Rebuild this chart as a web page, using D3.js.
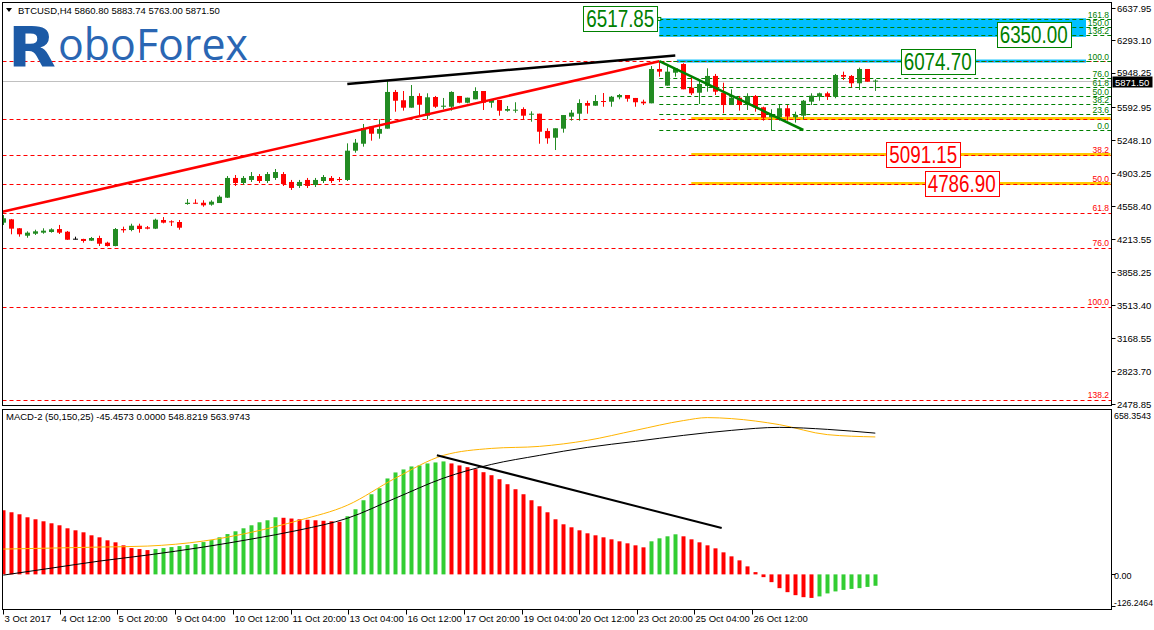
<!DOCTYPE html>
<html><head><meta charset="utf-8">
<script src="https://cdn.jsdelivr.net/npm/d3@7"></script>
<style>
body{margin:0;background:#fff;overflow:hidden}
svg{display:block;font-family:"Liberation Sans",Arial,sans-serif}
</style>
</head><body>
<svg id="c" width="1154" height="630"></svg>
<script>
// ---------- DATA ----------
const opens  = [4381,4416,4322,4244,4265,4276,4283,4314,4286,4213,4210,4192,4220,4171,4136,4314,4304,4349,4332,4318,4409,4395,4388,4577,4590,4590,4570,4587,4643,4850,4797,4829,4870,4818,4850,4891,4808,4766,4829,4776,4818,4850,4839,4829,5136,5209,5388,5314,5367,5752,5665,5587,5710,5503,5699,5597,5597,5710,5639,5675,5762,5639,5668,5555,5556,5573,5514,5524,5343,5272,5367,5493,5524,5636,5608,5657,5650,5696,5720,5689,5650,5633,5993,5818,5954,6045,5797,5744,5815,5920,5744,5615,5692,5615,5710,5591,5486,5486,5581,5486,5503,5650,5702,5738,5702,5930,5920,5843,5993,5860.80];
const highs  = [4461,4420,4325,4290,4307,4322,4322,4357,4294,4234,4212,4231,4244,4181,4325,4339,4370,4370,4346,4423,4440,4406,4409,4629,4626,4616,4616,4668,4870,4881,4870,4912,4891,4912,4944,4912,4829,4829,4850,4850,4881,4870,4860,5213,5259,5416,5388,5465,5874,5773,5762,5825,5738,5738,5710,5689,5759,5710,5692,5801,5762,5675,5668,5605,5644,5591,5549,5524,5371,5371,5510,5563,5675,5660,5720,5741,5710,5731,5720,5689,5671,6024,6074.70,6024,6000,6053,5912,5878,6000,5941,5849,5780,5710,5738,5720,5598,5570,5615,5615,5545,5668,5738,5745,5755,5941,5965,5930,6007,5993,5883.74];
const lows   = [4356,4259,4234,4223,4252,4265,4276,4262,4199,4206,4171,4189,4136,4131,4133,4276,4291,4276,4311,4314,4374,4346,4307,4569,4580,4548,4559,4587,4640,4766,4776,4808,4797,4797,4829,4766,4724,4745,4745,4755,4797,4797,4808,4818,5115,5178,5241,5262,5367,5545,5556,5587,5493,5465,5584,5570,5556,5633,5633,5675,5563,5587,5503,5545,5534,5465,5440,5209,5209,5143,5325,5451,5451,5524,5608,5597,5597,5675,5650,5597,5615,5633,5912,5818,5912,5780,5720,5626,5755,5720,5528,5615,5556,5563,5545,5451,5352.85,5451,5451,5430,5465,5615,5660,5668,5686,5878,5801,5773,5860,5763.00];
const closes = [4427,4318,4259,4276,4290,4297,4311,4276,4202,4213,4189,4220,4160,4136,4314,4301,4349,4314,4318,4412,4381,4388,4328,4590,4584,4563,4601,4653,4850,4797,4850,4870,4818,4891,4912,4787,4745,4808,4766,4829,4860,4818,4829,5136,5220,5374,5314,5364,5752,5660,5587,5710,5618,5696,5597,5608,5752,5639,5692,5762,5639,5675,5555,5573,5566,5503,5524,5335,5266,5371,5510,5535,5636,5608,5657,5650,5702,5720,5681,5644,5633,5993,5965,5965,6000,5780,5738,5836,5920,5755,5615,5692,5615,5710,5591,5482,5510,5581,5493,5510,5660,5713,5738,5702,5930,5912,5843,5993,5860,5871.50];

const histValues = [256,248,240,228,220,212,204,196,184,176,168,156,148,136,128,116,105,101,97,
  101,105,109,113,117,121,129,137,148,161,172,184,196,208,216,228,
  226,223,220,218,216,214,212,210,
  232,260,296,320,344,383,407,419,431,435,443,447,451,
  443,435,428,420,408,396,380,360,340,320,296,272,248,220,200,188,176,164,156,148,140,132,124,116,108,
  132,144,152,160,
  152,140,128,116,104,88,72,56,32,9,-11,-31,-55,-71,-83,-91,-94,
  -88,-76,-68,-62,-58,-55,-50,-45.4573];
const mainBars   = [0,6,12,18,25,31,37,43,49,55,61,67,73,79,85,91,97,103,109];
const macdMain   = [-3,25,53,77,109,141,177,224,304,384,439,475,507,531,555,575,587,579,563.97];
const signalBars = [0,6,12,18,25,31,37,43,49,55,61,67,73,79,85,88,91,97,103,109];
const macdSignal = [101,105,109,113,133,168,216,276,384,475,503,511,535,575,614,626,622,598,558,548.82];

const priceTicks = [6637.95,6293.10,5948.25,5592.95,5248.10,4903.25,4558.40,4213.55,3858.25,3513.40,3168.55,2823.70,2478.85];
const timeTickBars = [0,7.1,14.2,21.5,28.7,35.95,43.1,50.3,57.6,64.8,72.0,79.2,86.3,93.6];
const timeTickLabels = ["3 Oct 2017","4 Oct 12:00","5 Oct 20:00","9 Oct 04:00","10 Oct 12:00","11 Oct 20:00","13 Oct 04:00","16 Oct 12:00","17 Oct 20:00","19 Oct 04:00","20 Oct 12:00","23 Oct 20:00","25 Oct 04:00","26 Oct 12:00"];
const macdTicks = [658.3543,0,-126.2464];
const macdTickLabels = ["658.3543","0.00","-126.2464"];

const fibRatios = [0,23.6,38.2,50,61.8,76,100,138.2];
const fibRedAnchors = [6074.70,3499.5];          // 0% , 100%
const fibRedLabelled = [38.2,50,61.8,76,100,138.2];
const fibGreenRatios = [0,23.6,38.2,50,61.8,76,100,138.2,150,161.8];
const fibGreenAnchors = [5352.85,6074.70];       // 0% , 100%
const fibGreenStartBar = 82;
const yellowLevels = [23.6,38.2,50];
const yellowStartBar = 86;

const trendRed   = [[-0.1,4496],[82,6074.70]];
const trendBlack = [[43,5836],[84,6135]];
const trendGreen = [[82,6074.70],[100,5353]];
const macdTrend  = [[54.2,476],[89.8,185]];

const boxLabels = [
  {text:"6517.85", bar:77.6, price:6517.85, color:"#008000"},
  {text:"6350.00", bar:128.8, price:6350.00, color:"#008000"},
  {text:"6074.70", bar:116.8, price:6074.70, color:"#008000"},
  {text:"5091.15", bar:115.0, price:5091.15, color:"#ff0000"},
  {text:"4786.90", bar:119.8, price:4786.90, color:"#ff0000"}
];
const header = "BTCUSD,H4  5860.80 5883.74 5763.00 5871.50";
const macdHeader = "MACD-2 (50,150,25) -45.4573 0.0000 548.8219 563.9743";
const lastPrice = 5871.50;

// ---------- LAYOUT ----------
const svg = d3.select("#c");
const L = 2.5, R = 1111.5;
const P = {top:2.5, bottom:405.5};
const M = {top:409.5, bottom:609.5};
const nBars = closes.length;
const x = d3.scaleLinear().domain([0, nBars-1]).range([3.3, 875.3]);
const y = d3.scaleLinear().domain([2478.85, 6637.95]).range([404, 7.5]);
const ym = d3.scaleLinear().domain([-126.2464, 658.3543]).range([606, 409.5]);

const GREEN = "#228b22", RED = "#ff0000";
const FS = 9.5;

svg.append("rect").attr("width",1154).attr("height",630).attr("fill","#fff");
svg.append("clipPath").attr("id","cp").append("rect")
  .attr("x",L).attr("y",P.top).attr("width",R-L).attr("height",P.bottom-P.top);
svg.append("clipPath").attr("id","cm").append("rect")
  .attr("x",L).attr("y",M.top).attr("width",R-L).attr("height",M.bottom-M.top);

const gP = svg.append("g").attr("clip-path","url(#cp)");
const gM = svg.append("g").attr("clip-path","url(#cm)");

// logo
const logo = svg.append("g");
logo.append("text").attr("x",8).attr("y",66).attr("font-family","DejaVu Sans").attr("font-weight","bold")
  .attr("font-size",56).attr("fill","#1c5aa6").attr("textLength",48).attr("lengthAdjust","spacingAndGlyphs").text("R");
logo.append("text").attr("x",58).attr("y",60).attr("font-family","Open Sans").attr("font-size",43)
  .attr("fill","#2a66b3").attr("textLength",190).attr("lengthAdjust","spacingAndGlyphs").text("oboForex");

// header
svg.append("path").attr("d","M6,8 L12,8 L9,12 Z").attr("fill","#000");
svg.append("text").attr("x",18).attr("y",14).attr("font-size",FS).attr("fill","#000").text(header);

// cyan zones
gP.append("rect").attr("x",x(82)).attr("y",y(6525)).attr("width",1086-x(82)).attr("height",y(6330)-y(6525)).attr("fill","#00bfff");
gP.append("rect").attr("x",x(84.2)).attr("y",y(6092)).attr("width",1086-x(84.2)).attr("height",y(6060)-y(6092)).attr("fill","#00bfff");

// red fib lines
const redP = r => fibRedAnchors[0] + (fibRedAnchors[1]-fibRedAnchors[0])*r/100;
fibRatios.forEach(r=>{
  const yy = Math.round(y(redP(r)))+0.5;
  gP.append("line").attr("x1",L).attr("x2",R).attr("y1",yy).attr("y2",yy)
    .attr("stroke",RED).attr("stroke-dasharray","4,3");
});
// yellow lines
yellowLevels.forEach(r=>{
  const yy = Math.round(y(redP(r)));
  gP.append("rect").attr("x",x(yellowStartBar)).attr("y",yy-2).attr("width",R-1-x(yellowStartBar)).attr("height",3).attr("fill","#ffc800");
  gP.append("line").attr("x1",x(yellowStartBar)).attr("x2",R).attr("y1",yy+0.5).attr("y2",yy+0.5).attr("stroke",RED).attr("stroke-dasharray","4,3");
});
// green fib lines
const grP = r => fibGreenAnchors[0] + (fibGreenAnchors[1]-fibGreenAnchors[0])*r/100;
fibGreenRatios.forEach(r=>{
  const yy = Math.round(y(grP(r)))+0.5;
  gP.append("line").attr("x1",x(fibGreenStartBar)).attr("x2",R).attr("y1",yy).attr("y2",yy)
    .attr("stroke","#008000").attr("stroke-dasharray","4,3");
  svg.append("text").attr("x",1109).attr("y",yy-1.5).attr("text-anchor","end").attr("font-size",8.5)
    .attr("fill","#008000").text(r.toFixed(1));
});
fibRedLabelled.forEach(r=>{
  const yy = Math.round(y(redP(r)));
  svg.append("text").attr("x",1109).attr("y",yy-2).attr("text-anchor","end").attr("font-size",8.5)
    .attr("fill",RED).text(r.toFixed(1));
});

// bid line
gP.append("line").attr("x1",L).attr("x2",R).attr("y1",Math.round(y(lastPrice))+0.5).attr("y2",Math.round(y(lastPrice))+0.5)
  .attr("stroke","#c0c0c0");

// candles
const idx = d3.range(nBars);
const col = i => closes[i]>opens[i]?GREEN:(closes[i]<opens[i]?RED:"#000");
gP.selectAll("line.wick").data(idx).join("line").attr("class","wick")
  .attr("x1",i=>Math.round(x(i))+0.5).attr("x2",i=>Math.round(x(i))+0.5)
  .attr("y1",i=>y(highs[i])).attr("y2",i=>y(lows[i])).attr("stroke",col);
gP.selectAll("rect.body").data(idx).join("rect").attr("class","body")
  .attr("x",i=>Math.round(x(i))-2).attr("width",5)
  .attr("y",i=>Math.min(y(opens[i]),y(closes[i])))
  .attr("height",i=>Math.max(1,Math.abs(y(opens[i])-y(closes[i]))))
  .attr("fill",col);

// trendlines
const tl = (g,pts,color,w,sx,sy)=> g.append("line").attr("x1",sx(pts[0][0])).attr("y1",sy(pts[0][1]))
  .attr("x2",sx(pts[1][0])).attr("y2",sy(pts[1][1])).attr("stroke",color).attr("stroke-width",w);
tl(gP,trendBlack,"#000",2.5,x,y);
tl(gP,trendRed,RED,2.5,x,y);
tl(gP,trendGreen,"#008000",2.5,x,y);

// box labels
boxLabels.forEach((b,k)=>{
  const cy = y(b.price);
  const w = 74, h = 25;
  const cx = k===0 ? x(82)-2-w/2 : x(b.bar);
  svg.append("rect").attr("x",Math.round(cx-w/2)+0.5).attr("y",Math.round(cy-h/2)+0.5).attr("width",w).attr("height",h)
    .attr("fill","#fff").attr("stroke",b.color);
  svg.append("text").attr("x",cx-34).attr("y",cy+8.5)
    .attr("font-family","'Liberation Sans',Arial,sans-serif").attr("font-size",23)
    .attr("textLength",68).attr("lengthAdjust","spacingAndGlyphs")
    .attr("fill",b.color).text(b.text);
});
svg.append("rect").attr("x",x(82)-1.5).attr("y",y(6517.85)-1.5).attr("width",3).attr("height",3).attr("fill","#fff").attr("stroke","#008000");

// MACD histogram
gM.selectAll("rect.h").data(idx).join("rect").attr("class","h")
  .attr("x",i=>Math.round(x(i))-1.5).attr("width",4)
  .attr("y",i=>Math.min(ym(0),ym(histValues[i])))
  .attr("height",i=>Math.abs(ym(histValues[i])-ym(0)))
  .attr("fill",i=> (i>0 && histValues[i]>histValues[i-1]) ? "#32cd32" : RED);
const lineGen = d3.line().x(d=>x(d[0])).y(d=>ym(d[1])).curve(d3.curveMonotoneX);
gM.append("path").attr("d",lineGen(signalBars.map((b,k)=>[b,macdSignal[k]]))).attr("fill","none").attr("stroke","#ffb400");
gM.append("path").attr("d",lineGen(mainBars.map((b,k)=>[b,macdMain[k]]))).attr("fill","none").attr("stroke","#000");
tl(gM,macdTrend,"#000",2,x,ym);
svg.append("text").attr("x",6).attr("y",420).attr("font-size",FS).attr("fill","#000").text(macdHeader);

// frames
[[P.top,P.bottom],[M.top,M.bottom]].forEach(([t,b])=>{
  svg.append("rect").attr("x",L).attr("y",t).attr("width",R-L).attr("height",b-t).attr("fill","none").attr("stroke","#000");
});

// price axis
const ly = Math.round(y(lastPrice));
priceTicks.forEach(p=>{
  const yy = Math.round(y(p))+0.5;
  svg.append("line").attr("x1",R).attr("x2",R+4).attr("y1",yy).attr("y2",yy).attr("stroke","#000");
  // keep the label just above the last-price marker when they would collide
  const ty = Math.abs(yy-ly) < 10 ? Math.min(yy+3.5, ly-5.5) : yy+3.5;
  svg.append("text").attr("x",1117).attr("y",ty).attr("font-size",FS).attr("fill","#000").text(p.toFixed(2));
});
// last price label
svg.append("rect").attr("x",R+1).attr("y",ly-4.5).attr("width",40).attr("height",11).attr("fill","#000");
svg.append("text").attr("x",1115).attr("y",ly+4.5).attr("font-size",FS).attr("fill","#fff").text(lastPrice.toFixed(2));

// macd axis
macdTicks.forEach((v,k)=>{
  const yy = Math.round(ym(v))+0.5;
  if(k>0) svg.append("line").attr("x1",R).attr("x2",R+4).attr("y1",yy).attr("y2",yy).attr("stroke","#000");
  const ty = k===0 ? 419 : (k===2 ? 606 : yy+4.5);
  const t = svg.append("text").attr("x",1114).attr("y",ty).attr("font-size",9).attr("fill","#000").text(macdTickLabels[k]);
  if(k!==1) t.attr("textLength",k===0?37:39).attr("lengthAdjust","spacingAndGlyphs");
});

// time axis
timeTickBars.forEach((b,k)=>{
  const xx = Math.round(x(b))+0.5;
  svg.append("line").attr("x1",xx).attr("x2",xx).attr("y1",M.bottom).attr("y2",M.bottom+5).attr("stroke","#000");
  svg.append("text").attr("x",xx+1).attr("y",622).attr("font-size",FS).attr("fill","#000").text(timeTickLabels[k]);
});
</script>
</body></html>
